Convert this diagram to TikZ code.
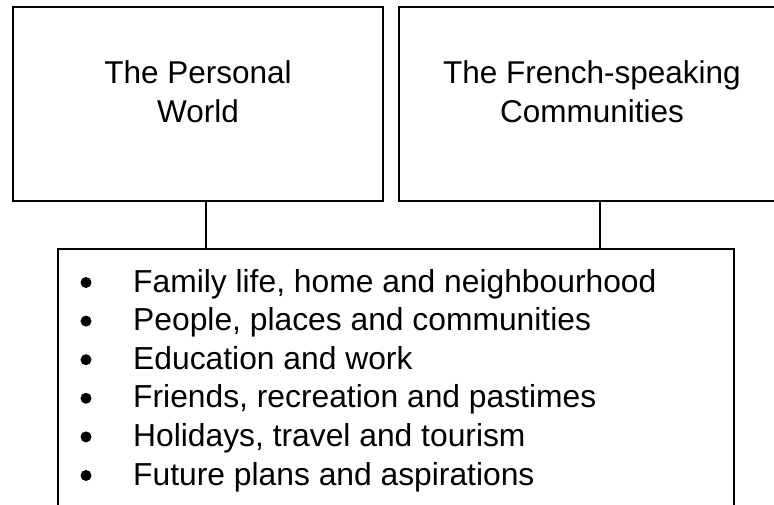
\documentclass[tikz,border=0pt]{standalone}
\usepackage{fontspec}
\setmainfont{Liberation Sans}
\begin{document}
\begin{tikzpicture}[x=1pt,y=-1pt,
  box/.style={draw=black,line width=1.6pt,fill=none,inner sep=0pt},
  title/.style={align=center,inner sep=0pt,font=\fontsize{31.5}{39}\selectfont},
  item/.style={anchor=base west,inner sep=0pt,font=\fontsize{31.8}{39}\selectfont},
  conn/.style={draw=black,line width=1.4pt}]
\useasboundingbox (0,0) rectangle (774,505);
\fill[white] (0,0) rectangle (774,505);
\begin{scope}
\clip (0,0) rectangle (774,505);
\node[box,minimum width=370pt,minimum height=194pt] (pw) at (198,104) {};
\node[box,minimum width=386pt,minimum height=194pt] (fc) at (592,104) {};
\node[box,minimum width=676pt,minimum height=300pt] (lst) at (396,399) {};
\node[title] (pwt) at (198,91.5) {The Personal\\World};
\node[title] (fct) at (592,91.5) {The French-speaking\\Communities};
\draw[conn] ([xshift=8pt]pw.south) -- ([xshift=8pt]pw.south |- lst.north);
\draw[conn] ([xshift=8pt]fc.south) -- ([xshift=8pt]fc.south |- lst.north);
\foreach \t [count=\i from 0] in {{Family life, home and neighbourhood},
  {People, places and communities},
  {Education and work},
  {Friends, recreation and pastimes},
  {Holidays, travel and tourism},
  {Future plans and aspirations}}{
  \node[item] (it\i) at (133,292+38.6*\i) {\t};
  \fill[black] (86,282.5+38.6*\i) circle (5.5pt);
}
\end{scope}
\end{tikzpicture}
\end{document}
